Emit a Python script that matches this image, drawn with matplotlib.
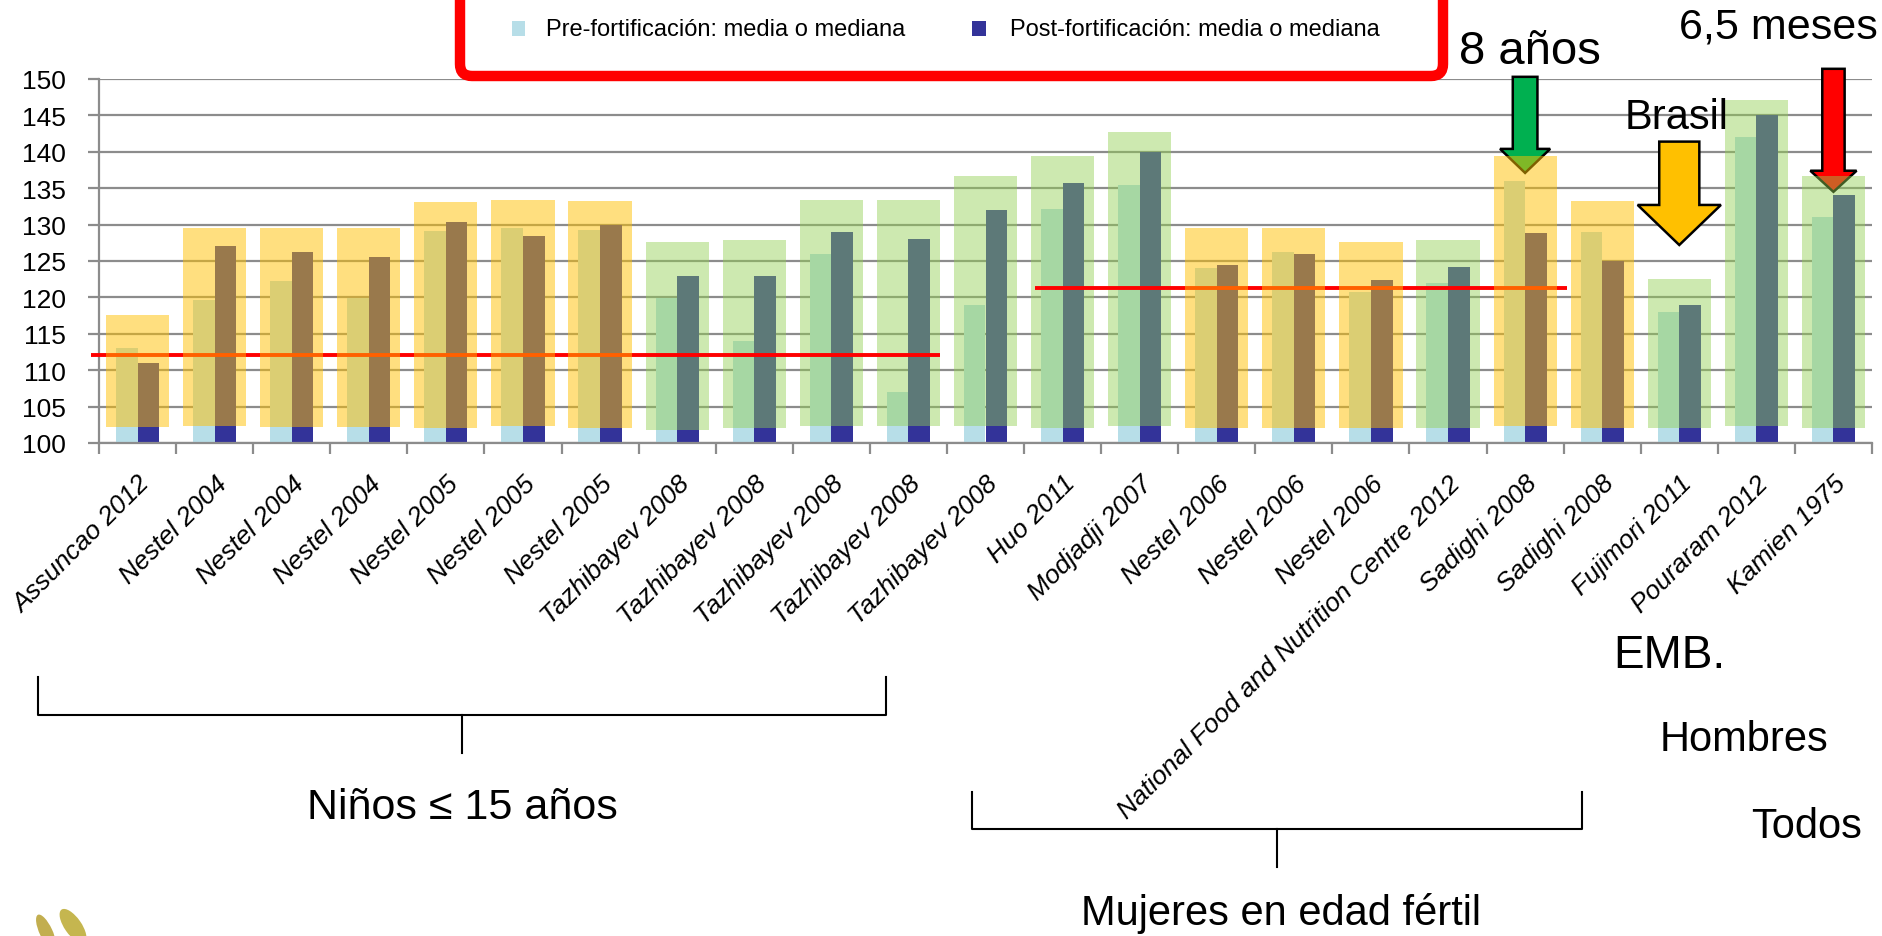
import numpy as np
import matplotlib
matplotlib.use('Agg')
import matplotlib.pyplot as plt
from matplotlib.patches import Rectangle, Polygon, FancyBboxPatch, Ellipse
from matplotlib.lines import Line2D
from matplotlib.transforms import Affine2D

plt.rcParams['font.family'] = ['Liberation Sans', 'DejaVu Sans']

# estudios y valores (media o mediana)
estudios = ['Assuncao 2012', 'Nestel 2004', 'Nestel 2004', 'Nestel 2004',
            'Nestel 2005', 'Nestel 2005', 'Nestel 2005',
            'Tazhibayev 2008', 'Tazhibayev 2008', 'Tazhibayev 2008',
            'Tazhibayev 2008', 'Tazhibayev 2008', 'Huo 2011', 'Modjadji 2007',
            'Nestel 2006', 'Nestel 2006', 'Nestel 2006',
            'National Food and Nutrition Centre 2012', 'Sadighi 2008',
            'Sadighi 2008', 'Fujimori 2011', 'Pouraram 2012', 'Kamien 1975']
pre = [113.0, 119.7, 122.2, 119.9, 129.1, 129.6, 129.2, 119.9, 114.0, 126.0,
       107.0, 119.0, 132.1, 135.4, 124.0, 126.2, 120.7, 122.0, 136.0, 129.0,
       118.0, 142.0, 131.0]
post = [111.0, 127.1, 126.3, 125.5, 130.4, 128.4, 129.9, 123.0, 123.0, 129.0,
        128.0, 132.0, 135.7, 140.0, 124.5, 125.9, 122.4, 124.2, 128.9, 125.0,
        119.0, 145.0, 134.0]

# recuadros de color sobre cada estudio
marco = ['A', 'A', 'A', 'A', 'A', 'A', 'A', 'V', 'V', 'V', 'V', 'V', 'V', 'V',
         'A', 'A', 'A', 'V', 'A', 'A', 'V', 'V', 'V']
marco_sup = [117.6, 129.5, 129.5, 129.5, 133.1, 133.4, 133.2, 127.6, 127.9,
             133.4, 133.4, 136.7, 139.4, 142.7, 129.5, 129.5, 127.6, 127.9,
             139.4, 133.2, 122.5, 147.1, 136.7]
marco_inf = [102.2, 102.4, 102.2, 102.2, 102.1, 102.4, 102.1, 101.8, 102.1,
             102.4, 102.4, 102.4, 102.1, 102.4, 102.1, 102.1, 102.1, 102.1,
             102.4, 102.1, 102.1, 102.4, 102.1]

# umbrales: (valor, desde, hasta) en posiciones de categoria
umbrales = [(112.1, -0.6, 10.41), (121.3, 11.64, 18.54)]

# flechas: (categoria, arriba, inicio punta, punta, ancho, ancho punta, color)
flechas = [(18, 150.3, 140.4, 137.1, 0.32, 0.65, '#00B050'),
           (22, 151.4, 137.4, 134.5, 0.29, 0.60, '#FF0000'),
           (20, 141.4, 132.7, 127.2, 0.52, 1.08, '#FFC000')]

AZUL_CLARO = '#B7DEE8'
AZUL = '#333399'
GRIS = '#8C8C8C'

W, H = 1883, 937
fig = plt.figure(figsize=(W / 100, H / 100), dpi=100)
px = Affine2D().scale(1, -1).translate(0, H)

ax = fig.add_axes([99 / W, 1 - 444 / H, (1872 - 99) / W, (444 - 80) / H])
x = np.arange(len(estudios))
ax.set_xlim(-0.5, len(estudios) - 0.5)
ax.set_ylim(100, 150)

ax.set_yticks(np.arange(100, 151, 5))
ax.yaxis.grid(True, color=GRIS, lw=1.6)
ax.set_axisbelow(True)
for s in ['top', 'right']:
    ax.spines[s].set_visible(False)
for s in ['left', 'bottom']:
    ax.spines[s].set_color(GRIS)
    ax.spines[s].set_linewidth(1.6)
ax.tick_params(axis='y', length=8, width=1.6, color=GRIS, labelsize=19, pad=16)

ax.set_xticks(x)
ax.set_xticklabels(estudios, rotation=45, ha='right', rotation_mode='anchor',
                   fontsize=19, style='italic')
ax.tick_params(axis='x', which='major', length=0, pad=20)
ax.set_xticks(np.arange(-0.5, len(estudios)), minor=True)
ax.tick_params(axis='x', which='minor', length=8, width=1.6, color=GRIS)

# barras pre y post
ax.bar(x - 0.14, pre, 0.28, color=AZUL_CLARO, zorder=2)
ax.bar(x + 0.14, post, 0.28, color=AZUL, zorder=2)

# recuadros translucidos
sup = np.array(marco_sup)
inf = np.array(marco_inf)
es_v = np.array([m == 'V' for m in marco])
ax.bar(x[es_v], sup[es_v] - inf[es_v], 0.82, bottom=inf[es_v],
       color='#92D050', alpha=0.45, lw=0, zorder=3)
ax.bar(x[~es_v], sup[~es_v] - inf[~es_v], 0.82, bottom=inf[~es_v],
       color='#FFC000', alpha=0.5, lw=0, zorder=5)

for v, x0, x1 in umbrales:
    ax.plot([x0, x1], [v, v], color='#FF0000', lw=2.8, zorder=4,
            clip_on=False, solid_capstyle='butt')

for c, top, head, tip, ws, wh, col in flechas:
    pts = [(c - ws / 2, top), (c + ws / 2, top), (c + ws / 2, head),
           (c + wh / 2, head), (c, tip), (c - wh / 2, head), (c - ws / 2, head)]
    ax.add_patch(Polygon(pts, closed=True, fc=col, ec='black', lw=1.8,
                         zorder=2.5, clip_on=False))

# leyenda
fig.add_artist(FancyBboxPatch((460, -40), 983, 117,
                              boxstyle='round,pad=0,rounding_size=12',
                              fc='white', ec='#FF0000', lw=7.5, transform=px,
                              zorder=10))
fig.add_artist(Rectangle((512, 22), 13, 15, fc=AZUL_CLARO, ec='none',
                         transform=px, zorder=11))
fig.add_artist(Rectangle((972, 22), 14, 15, fc=AZUL, ec='none',
                         transform=px, zorder=11))
fig.text(546 / W, 1 - 30 / H, 'Pre-fortificación: media o mediana',
         fontsize=17, va='center', ha='left', zorder=12)
fig.text(1010 / W, 1 - 30 / H, 'Post-fortificación: media o mediana',
         fontsize=17, va='center', ha='left', zorder=12)

# anotaciones
def texto(xp, yp, s, size, **kw):
    fig.text(xp / W, 1 - yp / H, s, fontsize=size, ha='center', va='center',
             zorder=12, **kw)

texto(1530, 52, '8 años', 34)
texto(1778, 27, '6,5 meses', 31)
texto(1677, 118, 'Brasil', 30)
texto(1669, 656, 'EMB.', 33)
texto(1744, 740, 'Hombres', 30)
texto(1807, 827, 'Todos', 30)
texto(462, 808, 'Niños ≤ 15 años', 31)
texto(1281, 914, 'Mujeres en edad fértil', 30)

# llaves de grupos
def llave(x0, x1, ytop, ymid, ybot):
    xm = (x0 + x1) / 2
    fig.add_artist(Line2D([x0, x0, x1, x1], [ytop, ymid, ymid, ytop],
                          color='black', lw=1.5, transform=px))
    fig.add_artist(Line2D([xm, xm], [ymid, ybot], color='black', lw=1.5,
                          transform=px))

llave(38, 886, 678, 716, 754)
llave(972, 1582, 793, 830, 868)

# logo
fig.add_artist(Ellipse((46, 933), 13, 38, angle=-25, fc='#B8A030',
                       ec='none', transform=px, alpha=0.85))
fig.add_artist(Ellipse((73, 927), 17, 40, angle=-35, fc='#BBAA30',
                       ec='none', transform=px, alpha=0.85))

fig.savefig('out.png', dpi=100)
